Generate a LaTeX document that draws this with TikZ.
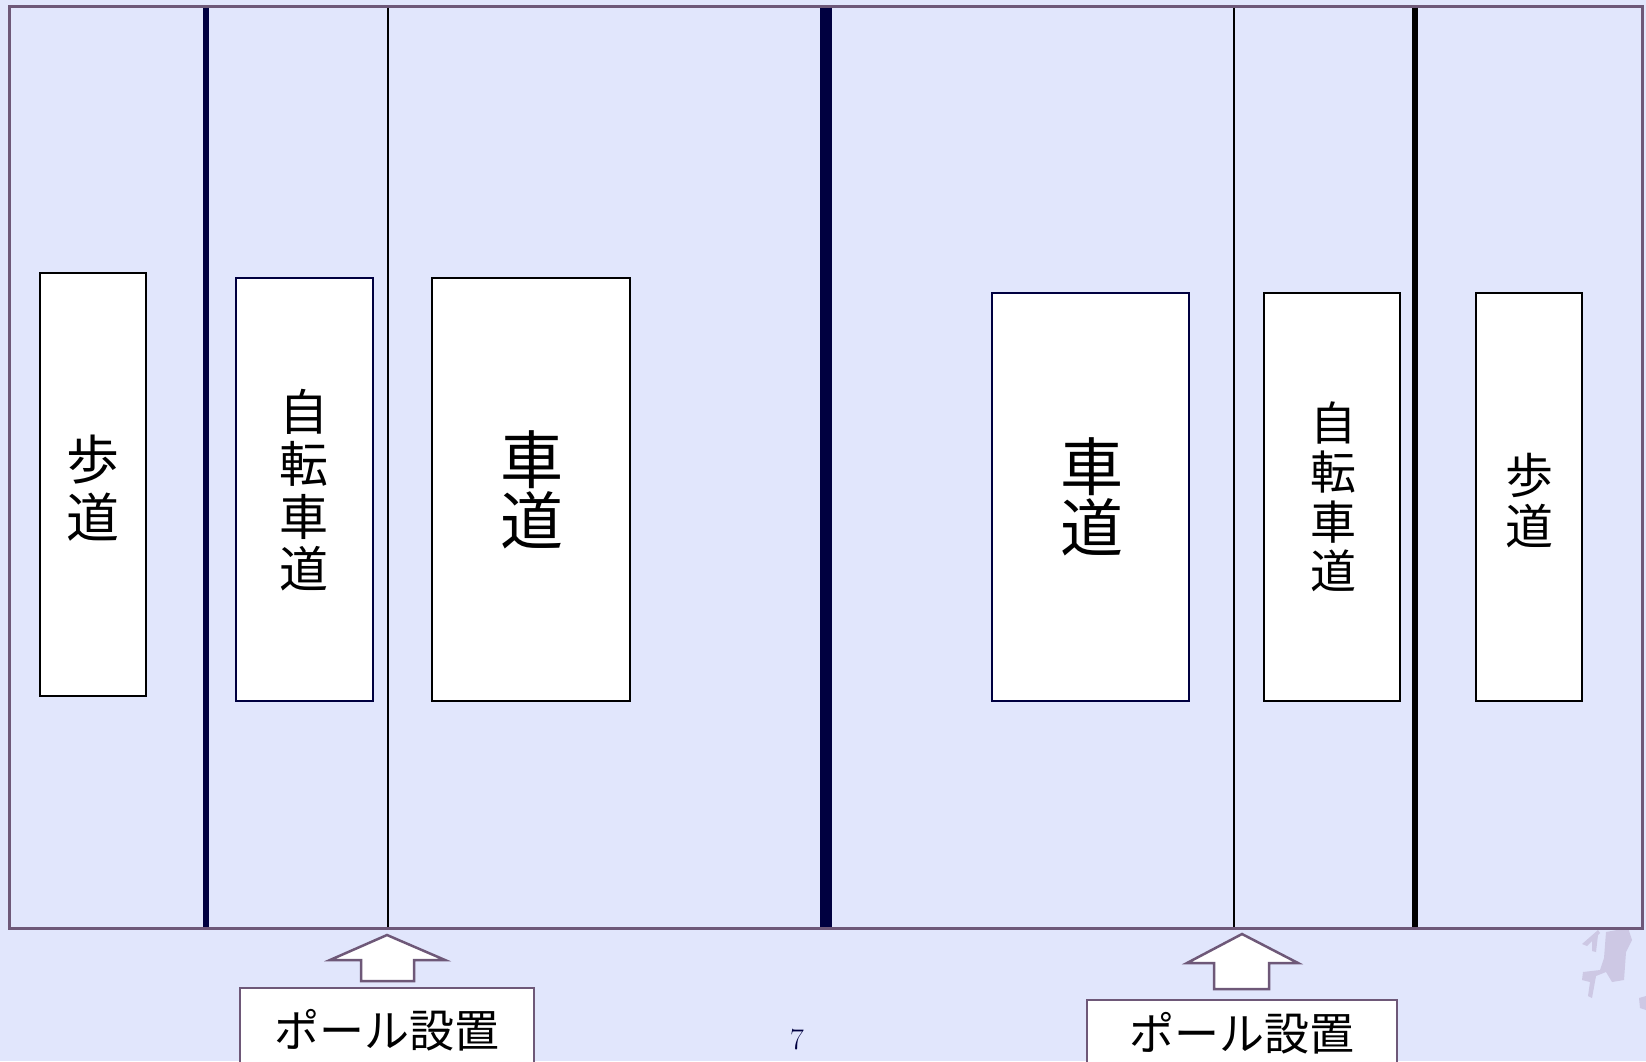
\documentclass[tikz,border=0pt]{standalone}
\usepackage{fontspec}
\newfontfamily\cjk{Noto Sans CJK JP}
\definecolor{bgc}{HTML}{E1E6FC}
\definecolor{frame}{HTML}{6E5878}
\definecolor{navy}{HTML}{000040}
\definecolor{wmark}{HTML}{CDC8E4}
\tikzset{
  lanebox/.style={draw=black, fill=white, line width=2pt},
  navybox/.style={draw=navy, fill=white, line width=2pt},
  lanetext/.style={align=center, inner sep=0pt},
  polebox/.style={draw=frame, fill=white, line width=2.5pt},
  polearrow/.style={draw=frame, fill=white, line width=2.5pt, line join=miter},
}
\begin{document}
\begin{tikzpicture}[x=1pt,y=-1pt]
\useasboundingbox (0,0) rectangle (1646,1061);
\clip (0,0) rectangle (1646,1061);
\fill[bgc] (0,0) rectangle (1646,1061);
% watermark
\fill[wmark] (1606,932) -- (1628,928) -- (1632,940) -- (1626,952) -- (1624,980) -- (1612,982) -- (1606,972) -- (1596,976) -- (1592,998) -- (1588,996) -- (1590,982) -- (1582,980) -- (1583,972) -- (1600,970) -- (1604,958) -- cycle;
\fill[wmark] (1582,944) -- (1598,930) -- (1600,933) -- (1587,946) -- cycle;
\fill[wmark] (1592,937) -- (1598,935) -- (1596,952) -- (1592,951) -- cycle;
\fill[wmark] (1639,998) -- (1646,996) -- (1646,1010) -- (1640,1008) -- cycle;
% outer road frame
\draw[frame, line width=3pt] (9,6) rectangle (1642,928);
% lane separators
\draw[navy, line width=6pt] (206,7.5) -- (206,926.5);
\draw[black, line width=2pt] (388,7.5) -- (388,926.5);
\draw[navy, line width=12pt] (826,7.5) -- (826,926.5);
\draw[black, line width=2pt] (1234,7.5) -- (1234,926.5);
\draw[black, line width=6pt] (1415,7.5) -- (1415,926.5);
% lane labels
\draw[lanebox] (40,273) rectangle (146,696);
\node[lanetext, font=\cjk\fontsize{53}{58}\selectfont] (hodoL) at (93,488) {歩\\道};
\draw[navybox] (236,278) rectangle (373,701);
\node[lanetext, font=\cjk\fontsize{49}{52.5}\selectfont] (jitenL) at (304,490) {自\\転\\車\\道};
\draw[lanebox] (432,278) rectangle (630,701);
\node[lanetext, font=\cjk\fontsize{63}{61}\selectfont] (shadoL) at (532,490) {車\\道};
\draw[navybox] (992,293) rectangle (1189,701);
\node[lanetext, font=\cjk\fontsize{63}{61}\selectfont] (shadoR) at (1092,497) {車\\道};
\draw[lanebox] (1264,293) rectangle (1400,701);
\node[lanetext, font=\cjk\fontsize{46}{49.5}\selectfont] (jitenR) at (1333,497) {自\\転\\車\\道};
\draw[lanebox] (1476,293) rectangle (1582,701);
\node[lanetext, font=\cjk\fontsize{48}{51}\selectfont] (hodoR) at (1529,501) {歩\\道};
% pole arrows
\draw[polearrow] (387,935) -- (445,960) -- (414,960) -- (414,981) -- (361,981) -- (361,960) -- (330,960) -- cycle;
\draw[polearrow] (1242,934) -- (1298,963) -- (1269,963) -- (1269,989) -- (1214,989) -- (1214,963) -- (1187,963) -- cycle;
% pole labels
\draw[polebox] (240,988) rectangle (534,1075);
\node[font=\cjk\fontsize{45}{50}\selectfont, inner sep=0pt] (poleL) at (387,1030) {ポール設置};
\draw[polebox] (1087,1000) rectangle (1397,1075);
\node[font=\cjk\fontsize{45}{50}\selectfont, inner sep=0pt] (poleR) at (1242,1033) {ポール設置};
% page number
\node[text=navy, font=\fontsize{30}{36}\selectfont, inner sep=0pt] (pnum) at (797,1040) {7};
\end{tikzpicture}
\end{document}
